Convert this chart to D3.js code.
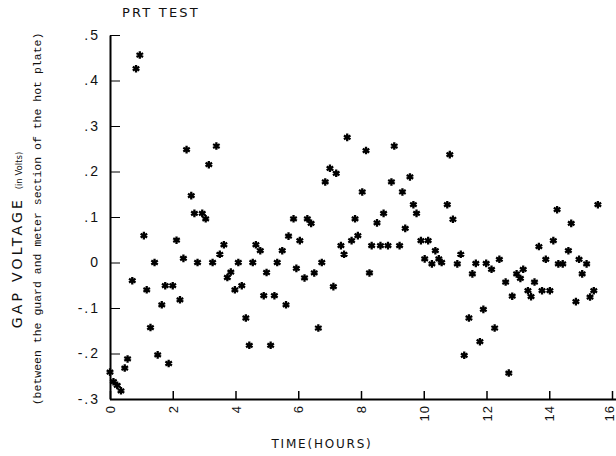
<!DOCTYPE html>
<html>
<head>
<meta charset="utf-8">
<script src="https://cdn.jsdelivr.net/npm/d3@7"></script>
<style>
  body { margin: 0; background: #fff; }
  text { fill: #111; }
</style>
</head>
<body>
<div id="chart"></div>
<script>
// time in hours
var hours = [
  0.95, 0.83, 2.44, 3.39, 3.15, 2.59, 2.69, 2.94, 3.05, 1.08, 2.12, 3.63, 3.50, 2.34,
  1.42, 2.79, 3.27, 4.09, 4.55, 5.33, 4.65, 4.79, 0.71, 1.17, 1.76, 2.00, 3.85, 3.74,
  3.98, 4.20, 4.99, 4.90, 5.24, 1.65, 2.23, 4.33, 1.29, 4.44, 5.12, 1.52, 1.87, 0.56,
  0.47, 0.00, 0.11, 0.23, 0.35,
  7.56, 8.16, 9.06, 7.01, 7.21, 6.86, 8.04, 8.97, 9.56, 9.32, 9.67, 9.77, 10.75, 10.83,
  5.85, 6.29, 6.41, 5.69, 6.05, 5.49, 7.81, 7.90, 7.70, 7.36, 7.46, 8.51, 8.72, 9.41,
  8.34, 8.62, 8.86, 9.23, 9.91, 10.14, 10.37, 10.03, 10.26, 10.48, 10.57, 6.75, 5.94,
  6.20, 6.51, 5.61, 7.12, 8.27, 6.64,
  10.93, 14.25, 15.55, 14.70, 11.18, 11.07, 11.66, 11.55, 11.99, 12.16, 12.41, 12.61,
  12.96, 13.08, 13.17, 13.53, 12.82, 13.32, 13.42, 13.77, 14.02, 13.67, 13.89, 14.13,
  14.29, 14.43, 14.61, 14.95, 15.19, 15.05, 14.85, 15.42, 15.30, 11.90, 11.44, 12.26,
  11.79, 11.29, 12.71
];

// gap voltage in volts, same order
var volts = [
  0.456, 0.426, 0.248, 0.256, 0.215, 0.147, 0.108, 0.108, 0.096, 0.059, 0.049, 0.039, 0.018, 0.009,
  0.000, 0.000, 0.000, 0.000, 0.000, 0.000, 0.039, 0.026, -0.040, -0.060, -0.051, -0.051, -0.021, -0.033,
  -0.060, -0.051, -0.022, -0.073, -0.073, -0.093, -0.082, -0.122, -0.143, -0.182, -0.182, -0.203, -0.222, -0.212,
  -0.232, -0.241, -0.262, -0.270, -0.282,
  0.275, 0.246, 0.256, 0.207, 0.196, 0.177, 0.155, 0.177, 0.188, 0.155, 0.127, 0.108, 0.127, 0.237,
  0.096, 0.096, 0.086, 0.058, 0.048, 0.026, 0.096, 0.059, 0.048, 0.037, 0.018, 0.087, 0.108, 0.075,
  0.037, 0.037, 0.037, 0.037, 0.048, 0.048, 0.026, 0.008, -0.003, 0.008, 0.000, 0.000, -0.013,
  -0.034, -0.023, -0.093, -0.053, -0.023, -0.144,
  0.095, 0.116, 0.127, 0.086, 0.018, -0.003, -0.002, -0.025, -0.002, -0.015, 0.007, -0.043,
  -0.025, -0.035, -0.015, -0.043, -0.074, -0.062, -0.075, -0.062, -0.062, 0.035, 0.007, 0.048,
  -0.003, -0.003, 0.026, 0.007, -0.003, -0.025, -0.086, -0.062, -0.076, -0.103, -0.122, -0.144,
  -0.174, -0.204, -0.243
];

var xTicks = [0, 2, 4, 6, 8, 10, 12, 14, 16];
var yTicks = [-0.3, -0.2, -0.1, 0, 0.1, 0.2, 0.3, 0.4, 0.5];

var W = 616, H = 456;

var svg = d3.select("#chart").append("svg")
    .attr("width", W)
    .attr("height", H)
    .style("font-family", "'DejaVu Sans', sans-serif");

var x = d3.scaleLinear().domain([0, 16]).range([110, 612]);
var y = d3.scaleLinear().domain([-0.3, 0.5]).range([399, 35]);

// title
svg.append("text")
    .attr("x", 122).attr("y", 17)
    .style("font-size", "13px")
    .style("letter-spacing", "2.2px")
    .text("PRT TEST");

// y axis, ticks pointing in
var yAxis = svg.append("g")
    .attr("transform", "translate(" + x(0) + ",0)")
    .call(d3.axisLeft(y)
      .tickValues(yTicks)
      .tickSize(-10)
      .tickSizeOuter(0)
      .tickPadding(10)
      .tickFormat(function (v) {
        if (Math.abs(v) < 1e-9) return "0";
        return (v < 0 ? "-" : "") + "." + Math.round(Math.abs(v) * 10);
      }));
yAxis.selectAll("text")
    .style("font-size", "14px")
    .style("letter-spacing", "2px")
    .attr("fill", "#111");
yAxis.select(".domain").attr("stroke-width", 2);

// x axis
var xAxis = svg.append("g")
    .attr("transform", "translate(0," + y(-0.3) + ")")
    .call(d3.axisBottom(x)
      .tickValues(xTicks)
      .tickSize(-8)
      .tickSizeOuter(0)
      .tickFormat(d3.format("d")));
xAxis.select(".domain").attr("d", "M" + x(0) + ",0.5H" + W).attr("stroke-width", 2);
xAxis.selectAll(".tick line").attr("stroke-width", 1.5);
xAxis.selectAll("text")
    .attr("y", 0).attr("x", 0).attr("dy", "0.35em")
    .attr("transform", function (d) {
      // last label sits right at the page edge; nudge it in a touch
      var dx = d === 16 ? -3 : 0;
      return "translate(" + dx + ",6) rotate(-90)";
    })
    .attr("text-anchor", "end")
    .attr("fill", "#111")
    .style("font-size", "13px")
    .style("letter-spacing", "1px");

// axis titles
svg.append("text")
    .attr("x", 322).attr("y", 448)
    .attr("text-anchor", "middle")
    .style("font-size", "12px")
    .style("letter-spacing", "1.8px")
    .text("TIME(HOURS)");

var yTitle = svg.append("text")
    .attr("transform", "translate(22,240) rotate(-90)")
    .attr("text-anchor", "middle");
yTitle.append("tspan")
    .style("font-size", "14px")
    .style("letter-spacing", "3.2px")
    .text("GAP VOLTAGE ");
yTitle.append("tspan")
    .style("font-size", "8.5px")
    .text("(in Volts)");

svg.append("text")
    .attr("transform", "translate(41,219) rotate(-90)")
    .attr("text-anchor", "middle")
    .style("font-family", "'Liberation Mono', monospace")
    .style("font-size", "11.5px")
    .attr("fill", "#333")
    .text("(between the guard and meter section of the hot plate)");

// points
var pts = hours.map(function (h, i) { return {t: h, v: volts[i]}; });
var star = d3.symbol().type(d3.symbolAsterisk).size(40);

svg.append("g").selectAll("path")
    .data(pts)
  .enter().append("path")
    .attr("transform", function (d) { return "translate(" + x(d.t) + "," + y(d.v) + ")"; })
    .attr("d", star)
    .attr("fill", "none")
    .attr("stroke", "#000")
    .attr("stroke-width", 2.3);
</script>
</body>
</html>
